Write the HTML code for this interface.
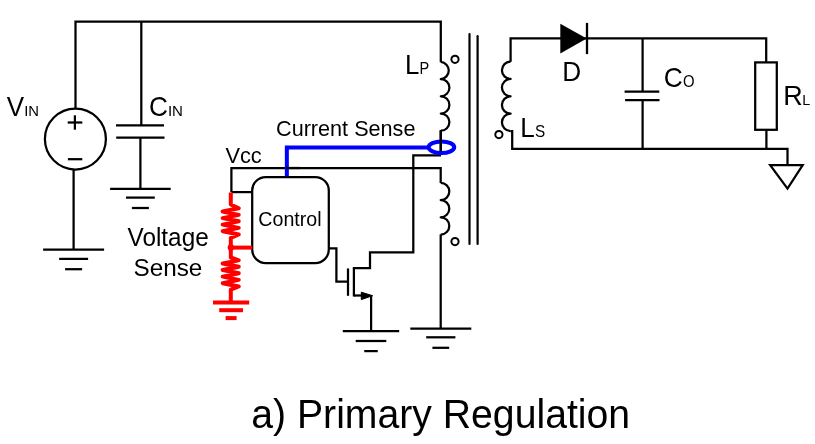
<!DOCTYPE html>
<html><head><meta charset="utf-8"><style>
html,body{margin:0;padding:0;background:#fff;width:815px;height:444px;overflow:hidden}
svg{display:block}
text{font-family:"Liberation Sans",sans-serif}
.t{filter:grayscale(1)}
</style></head><body>
<svg width="815" height="444" viewBox="0 0 815 444">
<rect width="815" height="444" fill="#fff"/>
<polyline points="75.5,108.5 75.5,21.5 440.8,21.5 440.8,62.2" fill="none" stroke="#000" stroke-width="2.25" stroke-linecap="butt" stroke-linejoin="miter"/>
<circle cx="75.4" cy="139.0" r="30.5" fill="none" stroke="#000" stroke-width="2.25"/>
<polyline points="67.7,122.5 82.3,122.5" fill="none" stroke="#000" stroke-width="2.25" stroke-linecap="butt" stroke-linejoin="miter"/>
<polyline points="74.9,115.3 74.9,129.7" fill="none" stroke="#000" stroke-width="2.25" stroke-linecap="butt" stroke-linejoin="miter"/>
<polyline points="67.9,159.2 82.3,159.2" fill="none" stroke="#000" stroke-width="2.25" stroke-linecap="butt" stroke-linejoin="miter"/>
<polyline points="73.6,169.5 73.6,249.6" fill="none" stroke="#000" stroke-width="2.25" stroke-linecap="butt" stroke-linejoin="miter"/>
<polyline points="43.099999999999994,249.6 104.1,249.6" fill="none" stroke="#000" stroke-width="2.25" stroke-linecap="butt" stroke-linejoin="miter"/>
<polyline points="59.099999999999994,258.9 88.1,258.9" fill="none" stroke="#000" stroke-width="2.25" stroke-linecap="butt" stroke-linejoin="miter"/>
<polyline points="65.1,269.2 82.1,269.2" fill="none" stroke="#000" stroke-width="2.25" stroke-linecap="butt" stroke-linejoin="miter"/>
<polyline points="141.3,21.5 141.3,125.4" fill="none" stroke="#000" stroke-width="2.25" stroke-linecap="butt" stroke-linejoin="miter"/>
<polyline points="116,125.4 164,125.4" fill="none" stroke="#000" stroke-width="2.25" stroke-linecap="butt" stroke-linejoin="miter"/>
<polyline points="116.2,137.6 164.5,137.6" fill="none" stroke="#000" stroke-width="2.25" stroke-linecap="butt" stroke-linejoin="miter"/>
<polyline points="140.4,137.6 140.4,188.8" fill="none" stroke="#000" stroke-width="2.25" stroke-linecap="butt" stroke-linejoin="miter"/>
<polyline points="110.10000000000001,188.8 170.70000000000002,188.8" fill="none" stroke="#000" stroke-width="2.25" stroke-linecap="butt" stroke-linejoin="miter"/>
<polyline points="126.0,197.60000000000002 154.8,197.60000000000002" fill="none" stroke="#000" stroke-width="2.25" stroke-linecap="butt" stroke-linejoin="miter"/>
<polyline points="131.9,208.00000000000003 148.9,208.00000000000003" fill="none" stroke="#000" stroke-width="2.25" stroke-linecap="butt" stroke-linejoin="miter"/>
<path d="M440.8,61.95 A8.6,8.6 0 0 1 440.8,79.10 A8.6,8.6 0 0 1 440.8,96.30 A8.6,8.6 0 0 1 440.8,113.50 A8.6,8.6 0 0 1 440.8,130.70 " fill="none" stroke="#000" stroke-width="2.25" stroke-linecap="butt" stroke-linejoin="round"/>
<polyline points="440.8,130.7 440.8,151" fill="none" stroke="#000" stroke-width="2.25" stroke-linecap="butt" stroke-linejoin="miter"/>
<polyline points="231.4,192 231.4,168 440.7,168 440.7,183.0" fill="none" stroke="#000" stroke-width="2.25" stroke-linecap="butt" stroke-linejoin="miter"/>
<path d="M440.7,182.9 A8.6,8.6 0 0 1 440.7,200.10 A8.6,8.6 0 0 1 440.7,217.30 A8.6,8.6 0 0 1 440.7,234.50 " fill="none" stroke="#000" stroke-width="2.25" stroke-linecap="butt" stroke-linejoin="round"/>
<polyline points="440.7,234.4 440.7,328.6" fill="none" stroke="#000" stroke-width="2.25" stroke-linecap="butt" stroke-linejoin="miter"/>
<polyline points="410.3,328.6 471.3,328.6" fill="none" stroke="#000" stroke-width="2.25" stroke-linecap="butt" stroke-linejoin="miter"/>
<polyline points="426.2,337.3 455.40000000000003,337.3" fill="none" stroke="#000" stroke-width="2.25" stroke-linecap="butt" stroke-linejoin="miter"/>
<polyline points="432.40000000000003,347.8 449.2,347.8" fill="none" stroke="#000" stroke-width="2.25" stroke-linecap="butt" stroke-linejoin="miter"/>
<polyline points="469.5,34 469.5,244" fill="none" stroke="#000" stroke-width="2.2" stroke-linecap="round" stroke-linejoin="miter"/>
<polyline points="477.6,36.2 477.6,244" fill="none" stroke="#000" stroke-width="2.2" stroke-linecap="round" stroke-linejoin="miter"/>
<circle cx="455" cy="59.3" r="3.6" fill="none" stroke="#000" stroke-width="2"/>
<circle cx="455" cy="241.6" r="3.6" fill="none" stroke="#000" stroke-width="2"/>
<circle cx="498.9" cy="134.6" r="3.6" fill="none" stroke="#000" stroke-width="2"/>
<polyline points="441.0,155.4 413.3,155.4 413.3,252.3 370.0,252.3 370.0,268 353.9,268 353.9,296.6" fill="none" stroke="#000" stroke-width="2.25" stroke-linecap="butt" stroke-linejoin="miter"/>
<rect x="252.2" y="177" width="76.6" height="86.1" rx="13.5" ry="13.5" fill="none" stroke="#000" stroke-width="2.25"/>
<polyline points="231.4,192.1 252.2,192.1" fill="none" stroke="#000" stroke-width="2.25" stroke-linecap="butt" stroke-linejoin="miter"/>
<polyline points="328.9,248.3 336.4,248.3 336.4,281.7 348,281.7" fill="none" stroke="#000" stroke-width="2.25" stroke-linecap="butt" stroke-linejoin="miter"/>
<polyline points="348.0,268.4 348.0,295.8" fill="none" stroke="#000" stroke-width="2.25" stroke-linecap="butt" stroke-linejoin="miter"/>
<polyline points="353.9,295.5 362,295.5" fill="none" stroke="#000" stroke-width="2.25" stroke-linecap="butt" stroke-linejoin="miter"/>
<polygon points="361.3,292.2 361.3,299.6 372.6,295.7" fill="#000" stroke="#000" stroke-width="1"/>
<polyline points="371.1,295.5 371.1,331.1" fill="none" stroke="#000" stroke-width="2.25" stroke-linecap="butt" stroke-linejoin="miter"/>
<polyline points="342.8,331.1 399.2,331.1" fill="none" stroke="#000" stroke-width="2.25" stroke-linecap="butt" stroke-linejoin="miter"/>
<polyline points="355.7,341.0 386.3,341.0" fill="none" stroke="#000" stroke-width="2.25" stroke-linecap="butt" stroke-linejoin="miter"/>
<polyline points="364.25,351.1 377.75,351.1" fill="none" stroke="#000" stroke-width="2.25" stroke-linecap="butt" stroke-linejoin="miter"/>
<polyline points="230.8,192.6 230.8,204.5 238.7,208.3 222.7,211.5 238.7,214.9 222.7,218.1 238.7,221.3 222.7,224.6 238.7,227.9 222.7,231.2 238.7,234.5 230.8,237.8 230.8,257.5 238.7,260.4 222.7,263.5 238.7,266.8 222.7,270.0 238.7,273.3 222.7,276.6 238.7,279.9 222.7,283.2 238.7,286.5 230.8,289.6 230.8,302.6" fill="none" stroke="#ff0000" stroke-width="4" stroke-linecap="butt" stroke-linejoin="round"/>
<polyline points="230.8,247.6 252.2,247.6" fill="none" stroke="#ff0000" stroke-width="4" stroke-linecap="butt" stroke-linejoin="miter"/>
<circle cx="230.9" cy="247.4" r="3.2" fill="#ff0000"/>
<polyline points="213.0,302.6 249.2,302.6" fill="none" stroke="#ff0000" stroke-width="4" stroke-linecap="butt" stroke-linejoin="miter"/>
<polyline points="219.2,310.20000000000005 243.0,310.20000000000005" fill="none" stroke="#ff0000" stroke-width="4" stroke-linecap="butt" stroke-linejoin="miter"/>
<polyline points="225.6,318.1 236.6,318.1" fill="none" stroke="#ff0000" stroke-width="4" stroke-linecap="butt" stroke-linejoin="miter"/>
<polyline points="286.85,176.2 286.85,147.4 428,147.4" fill="none" stroke="#0000ff" stroke-width="4.0" stroke-linecap="butt" stroke-linejoin="miter"/>
<ellipse cx="441.45" cy="147.25" rx="12.8" ry="5.8" fill="none" stroke="#0000ff" stroke-width="4.0"/>
<polyline points="286,168 300,168" fill="none" stroke="#000" stroke-width="2.25" stroke-linecap="butt" stroke-linejoin="miter"/>
<polyline points="440.7,130 440.7,151.2" fill="none" stroke="#000" stroke-width="2.25" stroke-linecap="butt" stroke-linejoin="miter"/>
<path d="M510.6,61.6 A8.675,8.675 0 0 0 510.6,78.95 A8.675,8.675 0 0 0 510.6,96.30 A8.675,8.675 0 0 0 510.6,113.65 A8.675,8.675 0 0 0 510.6,131.00 " fill="none" stroke="#000" stroke-width="2.25" stroke-linecap="butt" stroke-linejoin="round"/>
<polyline points="510.6,131.0 512.2,131.0 512.2,148.9 787.5,148.9 787.5,165.2" fill="none" stroke="#000" stroke-width="2.25" stroke-linecap="butt" stroke-linejoin="miter"/>
<polyline points="510.6,61.7 510.6,38.4 766.2,38.4 766.2,62.4" fill="none" stroke="#000" stroke-width="2.25" stroke-linecap="butt" stroke-linejoin="miter"/>
<polygon points="560.3,23.7 560.3,53.6 586.7,38.6" fill="#000"/>
<polyline points="587,22.9 587,54.1" fill="none" stroke="#000" stroke-width="2.3" stroke-linecap="butt" stroke-linejoin="miter"/>
<polyline points="642.6,38.4 642.6,91.7" fill="none" stroke="#000" stroke-width="2.25" stroke-linecap="butt" stroke-linejoin="miter"/>
<polyline points="624.6,91.7 659.3,91.7" fill="none" stroke="#000" stroke-width="2.25" stroke-linecap="butt" stroke-linejoin="miter"/>
<polyline points="625.1,100 659.5,100" fill="none" stroke="#000" stroke-width="2.25" stroke-linecap="butt" stroke-linejoin="miter"/>
<polyline points="642.6,100 642.6,148.9" fill="none" stroke="#000" stroke-width="2.25" stroke-linecap="butt" stroke-linejoin="miter"/>
<rect x="755.2" y="62.4" width="21.6" height="67.4" fill="none" stroke="#000" stroke-width="2.25"/>
<polyline points="766.4,129.8 766.4,148.9" fill="none" stroke="#000" stroke-width="2.25" stroke-linecap="butt" stroke-linejoin="miter"/>
<polygon points="770.2,165.2 802.7,165.2 787.5,188.6" fill="none" stroke="#000" stroke-width="2.25"/><g class="t"><text transform="translate(6.87,116.20) scale(0.9577,1)" font-size="27.10" fill="#000">V</text>
<text transform="translate(24.17,116.00) scale(1.0124,1)" font-size="14.64" fill="#000">IN</text>
<text transform="translate(148.99,116.23) scale(0.9585,1)" font-size="27.32" fill="#000">C</text>
<text transform="translate(167.94,116.00) scale(1.0289,1)" font-size="14.64" fill="#000">IN</text>
<text transform="translate(405.03,73.60) scale(0.9435,1)" font-size="27.39" fill="#000">L</text>
<text transform="translate(419.43,73.60) scale(0.9315,1)" font-size="15.65" fill="#000">P</text>
<text transform="translate(520.21,137.00) scale(0.9670,1)" font-size="26.96" fill="#000">L</text>
<text transform="translate(534.91,137.14) scale(0.9789,1)" font-size="15.63" fill="#000">S</text>
<text transform="translate(562.30,80.70) scale(0.9726,1)" font-size="26.96" fill="#000">D</text>
<text transform="translate(663.78,86.92) scale(0.9496,1)" font-size="27.75" fill="#000">C</text>
<text transform="translate(683.03,86.94) scale(0.9440,1)" font-size="15.77" fill="#000">O</text>
<text transform="translate(783.24,104.90) scale(0.9944,1)" font-size="27.10" fill="#000">R</text>
<text transform="translate(802.15,104.90) scale(1.0024,1)" font-size="14.35" fill="#000">L</text>
<text transform="translate(276.02,136.17) scale(0.9424,1)" font-size="22.96" fill="#000">Current Sense</text>
<text transform="translate(225.39,163.07) scale(0.9674,1)" font-size="22.57" fill="#000">Vcc</text>
<text transform="translate(258.32,225.99) scale(0.9554,1)" font-size="20.56" fill="#000">Control</text>
<text transform="translate(127.58,246.00) scale(0.9536,1)" font-size="25.51" fill="#000">Voltage</text>
<text transform="translate(133.51,276.15) scale(0.9802,1)" font-size="24.79" fill="#000">Sense</text>
<text transform="translate(251.24,427.60) scale(0.9659,1)" font-size="40.58" fill="#000">a) Primary Regulation</text></g>
</svg>
</body></html>
